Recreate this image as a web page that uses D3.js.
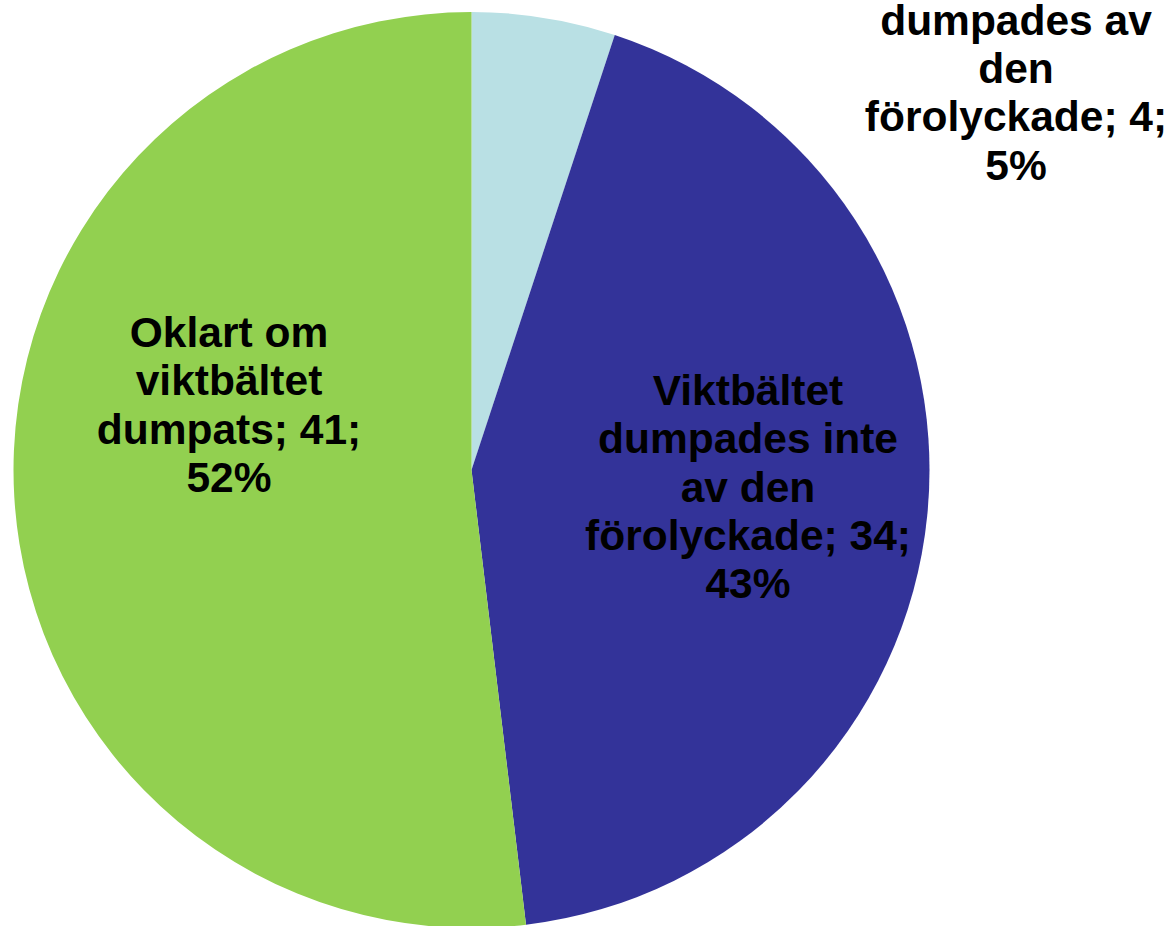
<!DOCTYPE html>
<html>
<head>
<meta charset="utf-8">
<script src="https://cdn.jsdelivr.net/npm/d3@7"></script>
<style>
  body { margin: 0; background: #fff; }
  svg { display: block; }
  .lbl { font-family: "Liberation Sans", Arial, sans-serif; font-weight: bold; font-size: 42.5px; fill: #000; }
</style>
</head>
<body>
<div id="chart"></div>
<script>
// data
var categories = [
  "Viktbältet dumpades av den förolyckade",
  "Viktbältet dumpades inte av den förolyckade",
  "Oklart om viktbältet dumpats"
];
var counts = [4, 34, 41];
// how the labels wrap in the original
var labelLines = [
  ["Viktbältet", "dumpades av", "den", "förolyckade; 4;", "5%"],
  ["Viktbältet", "dumpades inte", "av den", "förolyckade; 34;", "43%"],
  ["Oklart om", "viktbältet", "dumpats; 41;", "52%"]
];

var width = 1170, height = 926;
var cx = 471.5, cy = 470, radius = 458;
var colors = ["#B9E0E4", "#333399", "#92D050"];
var lineH = 48.3;
// label anchor: centre x, baseline of first line (Excel best-fit placement)
var labelAnchor = [[1016, -13.5], [748, 405], [229, 347]];

var svg = d3.select("#chart").append("svg")
  .attr("width", width)
  .attr("height", height);

var total = d3.sum(counts);
var pct = d3.format(".0%");

var pie = d3.pie().sort(null).value(function(d) { return d; });
var arc = d3.arc().innerRadius(0).outerRadius(radius);

var g = svg.append("g")
  .attr("transform", "translate(" + cx + "," + cy + ")");

g.selectAll("path")
  .data(pie(counts))
  .enter().append("path")
    .attr("d", arc)
    .attr("fill", function(d, i) { return colors[i]; });

// labels
var labels = svg.append("g");
labelLines.forEach(function(lines, i) {
  // last line is the percentage from the data
  lines[lines.length - 1] = pct(counts[i] / total);
  var t = labels.append("text")
    .attr("class", "lbl")
    .attr("text-anchor", "middle")
    .attr("x", labelAnchor[i][0])
    .attr("y", labelAnchor[i][1]);
  lines.forEach(function(s, j) {
    t.append("tspan")
      .attr("x", labelAnchor[i][0])
      .attr("y", labelAnchor[i][1] + j * lineH)
      .text(s);
  });
});
</script>
</body>
</html>
